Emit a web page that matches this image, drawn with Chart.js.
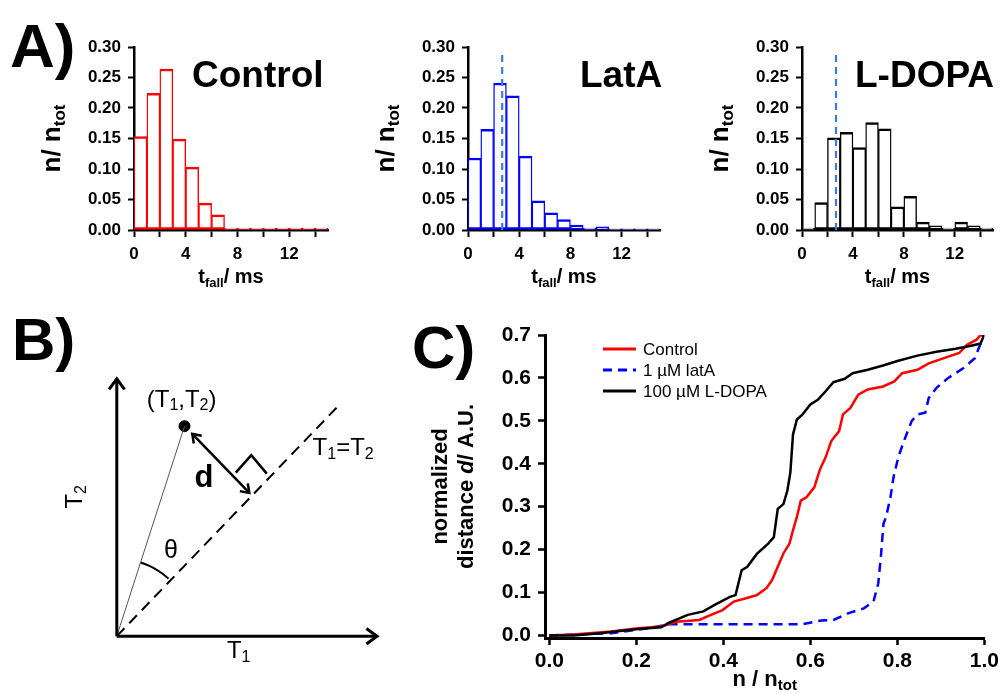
<!DOCTYPE html>
<html><head><meta charset="utf-8">
<script src="https://cdn.jsdelivr.net/npm/chart.js@4.4.1/dist/chart.umd.min.js"></script>
<style>
html,body{margin:0;padding:0;background:#fff;width:1003px;height:693px;overflow:hidden;position:relative;}
canvas{position:absolute;}
</style></head><body>
<canvas id="a1" width="340" height="280" style="left:0;top:20px"></canvas>
<canvas id="a2" width="330" height="280" style="left:340px;top:20px"></canvas>
<canvas id="a3" width="333" height="280" style="left:670px;top:20px"></canvas>
<canvas id="b" width="400" height="403" style="left:0;top:290px"></canvas>
<canvas id="c" width="603" height="403" style="left:400px;top:290px"></canvas>
<script>
// ---------- DATA ----------
const binCenters = [0.5,1.5,2.5,3.5,4.5,5.5,6.5,7.5,8.5,9.5,10.5,11.5,12.5,13.5,14.5];
const controlHist = [0.153,0.224,0.264,0.149,0.103,0.044,0.025,0.003,0.003,0.003,0.003,0.003,0.003,0.003,0.003];
const latAHist    = [0.118,0.165,0.241,0.220,0.121,0.048,0.028,0.017,0.008,0.003,0.005,0.002,0.002,0.002,0.002];
const ldopaHist   = [0.003,0.045,0.151,0.160,0.135,0.176,0.166,0.038,0.055,0.013,0.007,0.003,0.013,0.007,0.003];
const controlMean = 2.67;   // dashed reference line (ms)
const meanLineTop = 0.29;
const histTitles = ['Control','LatA','L-DOPA'];
const histYTicks = [0,0.05,0.10,0.15,0.20,0.25,0.30];
const histXTicks = [0,4,8,12];

const ctrlX = [0,0.055,0.142,0.204,0.257,0.292,0.345,0.362,0.398,0.424,0.45,0.477,0.499,0.512,0.525,0.538,0.552,0.56,0.569,0.578,0.591,0.609,0.622,0.635,0.648,0.666,0.675,0.692,0.71,0.732,0.767,0.793,0.811,0.846,0.872,0.907,0.942,0.96,0.982,0.991,1.0];
const ctrlY = [0,0.002,0.009,0.017,0.021,0.032,0.036,0.044,0.059,0.079,0.086,0.094,0.11,0.129,0.16,0.191,0.214,0.245,0.276,0.314,0.322,0.345,0.387,0.415,0.453,0.476,0.515,0.53,0.561,0.573,0.58,0.592,0.611,0.619,0.634,0.646,0.658,0.677,0.689,0.7,0.697];
const latX = [0,0.142,0.23,0.274,0.362,0.582,0.626,0.653,0.688,0.723,0.745,0.756,0.762,0.768,0.774,0.784,0.791,0.802,0.815,0.833,0.846,0.864,0.872,0.89,0.917,0.952,0.978,0.996];
const latY = [0,0.005,0.017,0.026,0.026,0.026,0.035,0.036,0.052,0.063,0.079,0.121,0.183,0.26,0.276,0.322,0.368,0.415,0.453,0.5,0.515,0.519,0.553,0.577,0.6,0.623,0.646,0.692];
const ldopaX = [0,0.055,0.116,0.204,0.257,0.274,0.318,0.354,0.38,0.415,0.428,0.442,0.455,0.477,0.503,0.516,0.525,0.538,0.547,0.554,0.56,0.569,0.582,0.6,0.617,0.635,0.653,0.679,0.697,0.732,0.767,0.802,0.846,0.89,0.934,0.969,0.991,1.0];
const ldopaY = [0,0,0.005,0.015,0.019,0.029,0.048,0.056,0.071,0.09,0.094,0.152,0.16,0.19,0.214,0.229,0.295,0.306,0.337,0.38,0.468,0.503,0.515,0.538,0.549,0.569,0.59,0.598,0.611,0.619,0.629,0.64,0.652,0.661,0.668,0.675,0.68,0.701];
const seriesNames = ['Control','1 \u00b5M latA','100 \u00b5M L-DOPA'];
const cYTicks = [0,0.1,0.2,0.3,0.4,0.5,0.6,0.7];
const cXTicks = [0,0.2,0.4,0.6,0.8,1.0];

// Panel B schematic (diagram units)
const bAxisY = [[0,0],[0,2.66]];
const bAxisYHead = [[-0.08,2.55],[0,2.66],[0.08,2.55]];
const bAxisX = [[0,0],[2.69,0]];
const bAxisXHead = [[2.58,0.08],[2.69,0],[2.58,-0.08]];
const bDiagonal = [[0,0],[2.29,2.38]];
const bPoint = [[0.70,2.17]];
const bRadius = [[0,0],[0.70,2.17]];
const bDArrow = [[0.78,2.09],[1.37,1.48]];
const bDHead1 = [[0.878,2.071],[0.78,2.09],[0.796,1.991]];
const bDHead2 = [[1.272,1.499],[1.37,1.48],[1.354,1.579]];
const bRightAngle = [[1.23,1.69],[1.39,1.87],[1.55,1.68]];
const bThetaArc = [[0.247,0.761],[0.325,0.731],[0.40,0.693],[0.47,0.647],[0.535,0.595]];

// ---------- HELPERS ----------
const F = '"Liberation Sans", Arial, Helvetica, sans-serif';
Chart.defaults.font.family = F;
Chart.defaults.color = '#000';
const fnt = (s, w='bold', st='') => `${st} ${w} ${s}px ${F}`;

function drawRich(ctx, segs, x, y, rot, align, base) {
  ctx.save(); ctx.translate(x, y); if (rot) ctx.rotate(rot);
  let total = 0;
  segs.forEach(s => { ctx.font = s.f; total += ctx.measureText(s.t).width; });
  let cx = align === 'left' ? 0 : -total / 2;
  ctx.textBaseline = base || 'middle'; ctx.textAlign = 'left'; ctx.fillStyle = '#000';
  segs.forEach(s => { ctx.font = s.f; ctx.fillText(s.t, cx, s.dy || 0); cx += ctx.measureText(s.t).width; });
  ctx.restore();
}
function richPlugin(items) {
  return { id: 'rich', afterDraw(chart) {
    items.forEach(it => {
      const p = it.at(chart);
      drawRich(chart.ctx, it.segs, p[0], p[1], it.rot || 0, it.align || 'center', it.base);
    });
  }};
}
const pts = arr => arr.map(p => ({x: p[0], y: p[1]}));
const keepTicks = (vals) => (axis) => {
  axis.ticks = vals.map(v => ({value: v}));
};

// ---------- PANEL A ----------
function hist(id, values, color, title, titleX, yWidth, padRight, showMean, extra) {
  const ds = [{
    type: 'bar', data: binCenters.map((x, i) => ({x, y: values[i]})),
    backgroundColor: '#fff', borderColor: color,
    borderWidth: {left: 1.4, right: 1.4, top: 2.5, bottom: 2.5},
    borderSkipped: false, barPercentage: 1, categoryPercentage: 1, order: 1
  }];
  if (showMean) ds.push({
    type: 'line', data: [{x: controlMean, y: 0}, {x: controlMean, y: meanLineTop}],
    borderColor: '#3b7dd8', borderWidth: 2.2, borderDash: [7, 5], pointRadius: 0, order: 0
  });
  const items = [
    {segs: [{t: title, f: fnt(37)}], at: () => [titleX, 67], align: 'left', base: 'alphabetic'},
    {segs: [{t: 'n/ n', f: fnt(26)}, {t: 'tot', f: fnt(17), dy: 7}], rot: -Math.PI / 2,
     at: c => [c.chartArea.left - 81, (c.chartArea.top + c.chartArea.bottom) / 2]},
    {segs: [{t: 't', f: fnt(20)}, {t: 'fall', f: fnt(13), dy: 6}, {t: '/ ms', f: fnt(20)}],
     at: c => [(c.chartArea.left + c.chartArea.right) / 2, c.chartArea.bottom + 47]}
  ].concat(extra || []);
  return new Chart(document.getElementById(id), {
    type: 'bar',
    data: {datasets: ds},
    options: {
      responsive: false, animation: false,
      layout: {padding: {top: 27, right: padRight, left: 0, bottom: 0}},
      plugins: {legend: {display: false}, tooltip: {enabled: false}},
      scales: {
        x: {type: 'linear', min: 0, max: 15, offset: false,
            grid: {offset: false, drawOnChartArea: false, tickLength: 7, tickWidth: 2, tickColor: '#000'},
            border: {color: '#000', width: 2.5},
            afterBuildTicks: keepTicks([0,2,4,6,8,10,12,14]),
            ticks: {autoSkip: false, maxRotation: 0, padding: 7, font: {size: 17, weight: 'bold'},
                    callback: v => histXTicks.includes(v) ? String(v) : ''},
            afterFit: s => { s.height = 70; }},
        y: {min: 0, max: 0.3,
            grid: {drawOnChartArea: false, tickLength: 6, tickWidth: 2, tickColor: '#000'},
            border: {color: '#000', width: 2.5},
            afterBuildTicks: keepTicks(histYTicks),
            ticks: {padding: 7, font: {size: 17, weight: 'bold'}, callback: v => v.toFixed(2)},
            afterFit: s => { s.width = yWidth; }}
      }
    },
    plugins: [richPlugin(items)]
  });
}
hist('a1', controlHist, '#ff0000', histTitles[0], 192, 134, 12, false,
     [{segs: [{t: 'A)', f: fnt(62)}], at: () => [10, 47], align: 'left', base: 'alphabetic'}]);
hist('a2', latAHist, '#0000ff', histTitles[1], 240, 128, 10, true);
hist('a3', ldopaHist, '#000000', histTitles[2], 185, 132, 10, true);

// ---------- PANEL B ----------
const ln = (arr, extra) => Object.assign({data: pts(arr), showLine: true, pointRadius: 0,
  borderColor: '#000', borderWidth: 2.5, fill: false}, extra || {});
const bx = (c, v) => c.scales.x.getPixelForValue(v), by = (c, v) => c.scales.y.getPixelForValue(v);
new Chart(document.getElementById('b'), {
  type: 'scatter',
  data: {datasets: [
    ln(bAxisY, {borderWidth: 3}), ln(bAxisYHead, {borderWidth: 3}),
    ln(bAxisX, {borderWidth: 3}), ln(bAxisXHead, {borderWidth: 3}),
    ln(bDiagonal, {borderWidth: 2, borderDash: [11, 7]}),
    ln(bRadius, {borderWidth: 1, borderColor: '#555'}),
    ln(bDArrow, {borderWidth: 2.5}), ln(bDHead1), ln(bDHead2),
    ln(bRightAngle, {borderWidth: 2.5}),
    ln(bThetaArc, {borderWidth: 2, tension: 0.4}),
    {data: pts(bPoint), pointRadius: 5.5, backgroundColor: '#000', borderColor: '#000', showLine: false}
  ]},
  options: {
    responsive: false, animation: false,
    layout: {padding: 0},
    plugins: {legend: {display: false}, tooltip: {enabled: false}},
    scales: {x: {display: false, min: -1.14, max: 2.86}, y: {display: false, min: -0.52, max: 3.51}}
  },
  plugins: [richPlugin([
    {segs: [{t: 'B)', f: fnt(60)}], at: () => [12, 70], align: 'left', base: 'alphabetic'},
    {segs: [{t: '(T', f: fnt(24, 'normal')}, {t: '1', f: fnt(16, 'normal'), dy: 6}, {t: ',T', f: fnt(24, 'normal')},
            {t: '2', f: fnt(16, 'normal'), dy: 6}, {t: ')', f: fnt(24, 'normal')}],
     at: c => [bx(c, 0.67), by(c, 2.44)]},
    {segs: [{t: 'T', f: fnt(24, 'normal')}, {t: '1', f: fnt(16, 'normal'), dy: 6}, {t: '=T', f: fnt(24, 'normal')},
            {t: '2', f: fnt(16, 'normal'), dy: 6}],
     at: c => [bx(c, 2.34), by(c, 1.94)]},
    {segs: [{t: 'd', f: fnt(31)}], at: c => [bx(c, 0.90), by(c, 1.63)]},
    {segs: [{t: '\u03b8', f: fnt(25, 'normal')}], at: c => [bx(c, 0.56), by(c, 0.88)]},
    {segs: [{t: 'T', f: fnt(24, 'normal')}, {t: '2', f: fnt(16, 'normal'), dy: 6}], rot: -Math.PI / 2,
     at: c => [bx(c, -0.43), by(c, 1.44)]},
    {segs: [{t: 'T', f: fnt(24, 'normal')}, {t: '1', f: fnt(16, 'normal'), dy: 6}],
     at: c => [bx(c, 1.26), by(c, -0.16)]}
  ])]
});

// ---------- PANEL C ----------
const xy = (xs, ys) => xs.map((x, i) => ({x, y: ys[i]}));
const cColors = ['#ff0000', '#0000ff', '#000000'];
const cDash = [[], [9, 6], []];
const legendPlugin = {
  id: 'clegend', afterDraw(chart) {
    const ctx = chart.ctx;
    const ys = [59, 80, 101];
    seriesNames.forEach((name, i) => {
      ctx.save();
      ctx.strokeStyle = cColors[i]; ctx.lineWidth = 3; ctx.setLineDash(cDash[i]);
      ctx.beginPath(); ctx.moveTo(203, ys[i]); ctx.lineTo(236, ys[i]); ctx.stroke();
      ctx.restore();
      drawRich(ctx, [{t: name, f: fnt(17, 'normal')}], 243, ys[i] + 1, 0, 'left', 'middle');
    });
  }
};
new Chart(document.getElementById('c'), {
  type: 'line',
  data: {datasets: [
    {label: seriesNames[0], data: xy(ctrlX, ctrlY), borderColor: cColors[0], borderWidth: 2.5, pointRadius: 0, order: 1},
    {label: seriesNames[1], data: xy(latX, latY), borderColor: cColors[1], borderWidth: 2.5, borderDash: cDash[1], pointRadius: 0, order: 2},
    {label: seriesNames[2], data: xy(ldopaX, ldopaY), borderColor: cColors[2], borderWidth: 2.5, pointRadius: 0, order: 0}
  ]},
  options: {
    responsive: false, animation: false,
    layout: {padding: {top: 45, right: 14, left: 0, bottom: 0}},
    plugins: {legend: {display: false}, tooltip: {enabled: false}},
    scales: {
      x: {type: 'linear', min: -0.01, max: 1.0,
          grid: {drawOnChartArea: false, tickLength: 7, tickWidth: 2.5, tickColor: '#000'},
          border: {color: '#000', width: 3},
          afterBuildTicks: keepTicks(cXTicks),
          ticks: {padding: 4, maxRotation: 0, font: {size: 21, weight: 'bold'}, callback: v => v.toFixed(1)},
          afterFit: s => { s.height = 55; }},
      y: {min: -0.006, max: 0.7,
          grid: {drawOnChartArea: false, tickLength: 7, tickWidth: 2.5, tickColor: '#000'},
          border: {color: '#000', width: 3},
          afterBuildTicks: keepTicks(cYTicks),
          ticks: {padding: 7, font: {size: 21, weight: 'bold'}, callback: v => v.toFixed(1)},
          afterFit: s => { s.width = 145; }}
    }
  },
  plugins: [legendPlugin, richPlugin([
    {segs: [{t: 'C)', f: fnt(60)}], at: () => [12, 78], align: 'left', base: 'alphabetic'},
    {segs: [{t: 'normalized', f: fnt(22)}], rot: -Math.PI / 2,
     at: c => [41, (c.chartArea.top + c.chartArea.bottom) / 2]},
    {segs: [{t: 'distance ', f: fnt(22)}, {t: 'd', f: fnt(22, 'bold', 'italic')}, {t: '/ A.U.', f: fnt(22)}], rot: -Math.PI / 2,
     at: c => [67, (c.chartArea.top + c.chartArea.bottom) / 2]},
    {segs: [{t: 'n / n', f: fnt(22)}, {t: 'tot', f: fnt(15), dy: 6}],
     at: c => [(c.chartArea.left + c.chartArea.right) / 2, 390]}
  ])]
});
</script>
</body></html>
